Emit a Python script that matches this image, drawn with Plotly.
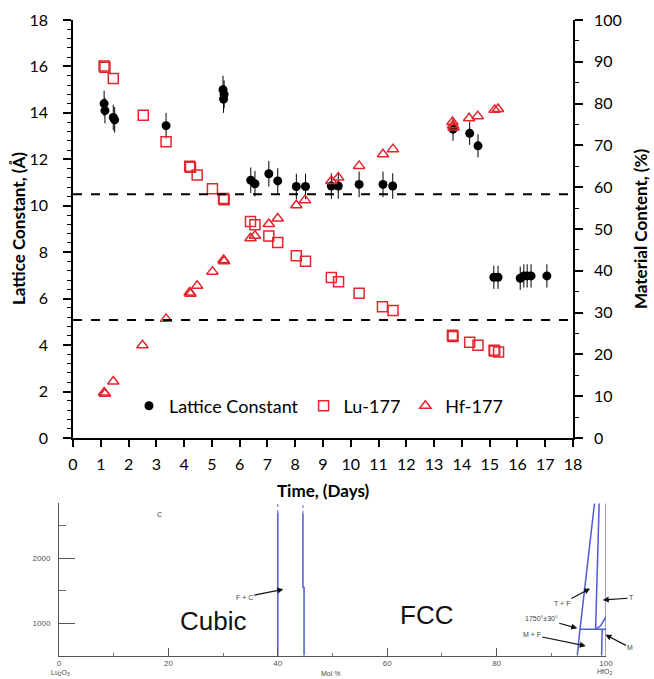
import plotly.graph_objects as go

# ---- Lattice constant (Å) vs time (days), with uncertainty ----
lc_day = [1.12, 1.15, 1.45, 1.5, 3.35, 5.4, 5.44, 5.42, 6.4, 6.55, 7.05, 7.37,
          8.04, 8.37, 9.3, 9.55, 10.3, 11.16, 11.51, 13.68, 14.28, 14.58,
          15.15, 15.3, 16.1, 16.23, 16.35, 16.49, 17.06]
lc_val = [14.4, 14.1, 13.8, 13.7, 13.45, 15.0, 14.8, 14.6, 11.1, 10.95, 11.38, 11.07,
          10.83, 10.83, 10.85, 10.85, 10.92, 10.92, 10.85, 13.3, 13.12, 12.58,
          6.92, 6.92, 6.88, 6.98, 6.98, 6.98, 6.98]
lc_err = [0.55, 0.55, 0.55, 0.55, 0.55, 0.6, 0.6, 0.6, 0.55, 0.55, 0.55, 0.55,
          0.55, 0.55, 0.55, 0.55, 0.55, 0.55, 0.55, 0.5, 0.5, 0.5,
          0.5, 0.5, 0.5, 0.5, 0.5, 0.5, 0.5]

# ---- Material content (%) ----
lu_day = [1.12, 1.15, 1.45, 2.53, 3.35, 4.2, 4.23, 4.47, 5.02, 5.42, 5.44, 6.39,
          6.55, 7.05, 7.37, 8.04, 8.37, 9.3, 9.56, 10.3, 11.14, 11.52, 13.66,
          13.68, 14.28, 14.58, 15.16, 15.18, 15.32]
lu_pct = [89.0, 88.7, 86.0, 77.2, 70.9, 65.0, 64.8, 62.9, 59.6, 57.3, 57.0, 51.8,
          51.0, 48.3, 46.8, 43.6, 42.3, 38.4, 37.4, 34.6, 31.4, 30.5, 24.6,
          24.3, 22.9, 22.2, 21.0, 20.8, 20.6]

hf_day = [1.12, 1.15, 1.45, 2.5, 3.35, 4.2, 4.23, 4.47, 5.02, 5.42, 5.44, 6.39,
          6.55, 7.05, 7.37, 8.04, 8.35, 9.3, 9.55, 10.3, 11.16, 11.52, 13.66,
          13.68, 13.7, 14.26, 14.57, 15.18, 15.3]
hf_pct = [10.9, 10.6, 13.5, 22.2, 28.5, 34.8, 34.5, 36.4, 39.8, 42.6, 42.3, 47.8,
          48.4, 51.2, 52.5, 55.7, 56.9, 61.5, 62.3, 65.1, 67.9, 69.1, 75.6,
          74.8, 74.3, 76.5, 77.0, 78.5, 78.7]

# Reference lattice constants (dashed lines), Å
ref_lattice = [10.5, 5.08]

# ---- Lu2O3–HfO2 phase diagram boundaries (mol % HfO2, temperature) ----
cubic_edge_mol = [40, 40]
cubic_edge_t = [500, 2697]
fcc_edge_mol = [44.8, 44.8, 44.6, 44.6]
fcc_edge_t = [500, 1550, 1550, 2680]
f_tf_mol = [94.75, 95.25, 97.9]
f_tf_t = [500, 908, 2846]
tf_t_mol = [98.75, 98.1]
tf_t_t = [2846, 908]
eutectoid_mol = [95.25, 100]
eutectoid_t = [908, 908]
tm_mol = [98.2, 99.0, 100]
tm_t = [908, 960, 1100]
m_mol = [99.3, 99.2]
m_t = [908, 500]

RED = "#e2262e"
BLUE = "#4f5ad6"
FONT = "Lato"

fig = go.Figure()

fig.add_trace(go.Scatter(
    x=lc_day, y=lc_val, mode="markers", name="Lattice Constant",
    marker=dict(symbol="circle", size=9, color="black"),
    error_y=dict(type="data", array=lc_err, color="black", thickness=1, width=0),
    xaxis="x", yaxis="y"))
fig.add_trace(go.Scatter(
    x=lu_day, y=lu_pct, mode="markers", name="Lu-177",
    marker=dict(symbol="square-open", size=10, color=RED, line=dict(width=1.5, color=RED)),
    xaxis="x", yaxis="y2"))
fig.add_trace(go.Scatter(
    x=hf_day, y=hf_pct, mode="markers", name="Hf-177",
    marker=dict(symbol="triangle-up-open", size=10, color=RED, line=dict(width=1.5, color=RED)),
    xaxis="x", yaxis="y2"))

for yv in ref_lattice:
    fig.add_shape(type="line", xref="x domain", yref="y", x0=0, x1=1, y0=yv, y1=yv,
                  line=dict(color="black", width=2, dash="dash"))

# phase diagram curves
def phase_line(xs, ys, dash="solid", color=BLUE, width=1.5):
    fig.add_trace(go.Scatter(x=xs, y=ys, mode="lines", showlegend=False,
                             line=dict(color=color, width=width, dash=dash),
                             xaxis="x3", yaxis="y3", hoverinfo="skip", cliponaxis=False))

phase_line(cubic_edge_mol, cubic_edge_t)
phase_line([40, 40], [2697, 2846], dash="dot", width=1)
phase_line(fcc_edge_mol, fcc_edge_t)
phase_line([44.6, 44.6], [2680, 2846], dash="dot", width=1)
phase_line(f_tf_mol, f_tf_t)
phase_line(tf_t_mol, tf_t_t)
phase_line(eutectoid_mol, eutectoid_t)
phase_line(tm_mol, tm_t)
phase_line(m_mol, m_t)
phase_line([100, 100], [500, 2846], color="#5a5f9a", width=1.2)

tick_font = dict(family=FONT, size=16, color="black")
small_tick = dict(family="Liberation Sans", size=8, color="#555555")

fig.update_layout(
    width=654, height=679,
    margin=dict(l=0, r=0, t=0, b=0, autoexpand=False),
    paper_bgcolor="white", plot_bgcolor="white",
    font=dict(family=FONT, color="black"),
    showlegend=True,
    legend=dict(orientation="h", x=129 / 654, y=1 - 406 / 679, xanchor="left", yanchor="middle",
                font=dict(family=FONT, size=18, color="black"), bgcolor="rgba(0,0,0,0)",
                itemwidth=30),
    xaxis=dict(domain=[73 / 654, 573 / 654], range=[0, 18], dtick=1, tick0=0,
               showline=True, linecolor="black", linewidth=1.5, mirror=False,
               ticks="outside", ticklen=7, tickcolor="black", tickwidth=1.5,
               tickfont=tick_font, showgrid=False, zeroline=False, anchor="y",
               ticklabelstandoff=4, automargin=False),
    yaxis=dict(domain=[1 - 438 / 679, 1 - 20 / 679], range=[0, 18], dtick=2, tick0=0,
               showline=True, linecolor="black", linewidth=1.5,
               ticks="outside", ticklen=8, tickcolor="black", tickwidth=1.5,
               minor=dict(dtick=0.4, ticks="outside", ticklen=4, tickcolor="black", tickwidth=1),
               tickfont=tick_font, showgrid=False, zeroline=False, anchor="x",
               ticklabelstandoff=12, automargin=False),
    yaxis2=dict(domain=[1 - 438 / 679, 1 - 20 / 679], range=[0, 100], dtick=10, tick0=0,
                overlaying="y", side="right", anchor="x",
                showline=True, linecolor="black", linewidth=1.5,
                ticks="outside", ticklen=8, tickcolor="black", tickwidth=1.5,
                minor=dict(dtick=5, ticks="outside", ticklen=4, tickcolor="black", tickwidth=1),
                tickfont=tick_font, showgrid=False, zeroline=False,
                ticklabelstandoff=8, automargin=False),
    xaxis3=dict(domain=[59 / 654, 606 / 654], range=[0, 100], dtick=20, tick0=0,
                showline=True, linecolor="#555555", linewidth=1,
                ticks="inside", ticklen=8, tickcolor="#555555", tickwidth=1,
                minor=dict(dtick=10, ticks="inside", ticklen=3, tickcolor="#777777"),
                tickfont=small_tick, showgrid=False, zeroline=False, anchor="y3",
                automargin=False),
    yaxis3=dict(domain=[1 - 655.7 / 679, 1 - 503.3 / 679], range=[500, 2846],
                tickvals=[1000, 2000],
                showline=True, linecolor="#555555", linewidth=1,
                ticks="inside", ticklen=16, tickcolor="#555555", tickwidth=1,
                minor=dict(tickvals=[1500, 2500], ticks="inside", ticklen=7, tickcolor="#666666"),
                tickfont=small_tick, showgrid=False, zeroline=False, anchor="x3",
                ticklabelstandoff=6, automargin=False),
    yaxis4=dict(domain=[1 - 655.7 / 679, 1 - 503.3 / 679], range=[500, 2846],
                overlaying="y3", side="right", anchor="x3",
                tickvals=[1000, 1500, 2000, 2500], showticklabels=False,
                ticks="inside", ticklen=7, tickcolor="#555a8a", showline=False,
                showgrid=False, zeroline=False, automargin=False),
)

# axis titles
fig.add_annotation(text="<b>Time, (Days)</b>", xref="paper", yref="paper",
                   x=323 / 654, y=1 - 490 / 679, xanchor="center", yanchor="middle",
                   showarrow=False, font=dict(family=FONT, size=17, color="black"))
fig.add_annotation(text="<b>Lattice Constant, (Å)</b>", xref="paper", yref="paper",
                   x=18 / 654, y=1 - 229 / 679, xanchor="center", yanchor="middle",
                   showarrow=False, textangle=-90,
                   font=dict(family=FONT, size=17, color="black"))
fig.add_annotation(text="<b>Material Content, (%)</b>", xref="paper", yref="paper",
                   x=640 / 654, y=1 - 229 / 679, xanchor="center", yanchor="middle",
                   showarrow=False, textangle=-90,
                   font=dict(family=FONT, size=17, color="black"))

# phase diagram text
small = dict(family="Liberation Sans", size=7, color="#444444")
fig.add_annotation(text="Lu<sub>2</sub>O<sub>3</sub>", xref="paper", yref="paper",
                   x=60 / 654, y=1 - 673 / 679, xanchor="center", yanchor="middle",
                   showarrow=False, font=small)
fig.add_annotation(text="Mol %", xref="paper", yref="paper",
                   x=330 / 654, y=1 - 673 / 679, xanchor="center", yanchor="middle",
                   showarrow=False, font=small)
fig.add_annotation(text="HfO<sub>2</sub>", xref="paper", yref="paper",
                   x=604 / 654, y=1 - 672 / 679, xanchor="center", yanchor="middle",
                   showarrow=False, font=small)
fig.add_annotation(text="C", x=18.3, y=2680, xref="x3", yref="y3", showarrow=False, font=small)
fig.add_annotation(text="Cubic", x=28.2, y=1030, xref="x3", yref="y3", showarrow=False,
                   font=dict(family="Liberation Sans", size=26, color="#111111"))
fig.add_annotation(text="FCC", x=67.2, y=1130, xref="x3", yref="y3", showarrow=False,
                   font=dict(family="Liberation Sans", size=26, color="#111111"))

arrow_labels = [
    ("F + C", 41.0, 1523, -39, 8),
    ("T + F", 97.1, 1534, -28, 15),
    ("T", 99.4, 1358, 29, -2),
    ("1750°±30°", 94.75, 923, -36, -10),
    ("M + F", 96.3, 651, -54, -11),
    ("M", 99.9, 823, 25, 13),
]
for txt, xm, yt, ax, ay in arrow_labels:
    fig.add_annotation(text=txt, x=xm, y=yt, xref="x3", yref="y3", ax=ax, ay=ay,
                       showarrow=True, arrowhead=2, arrowsize=1, arrowwidth=1.2,
                       arrowcolor="#111111", font=small)

fig.write_html("out.html")
